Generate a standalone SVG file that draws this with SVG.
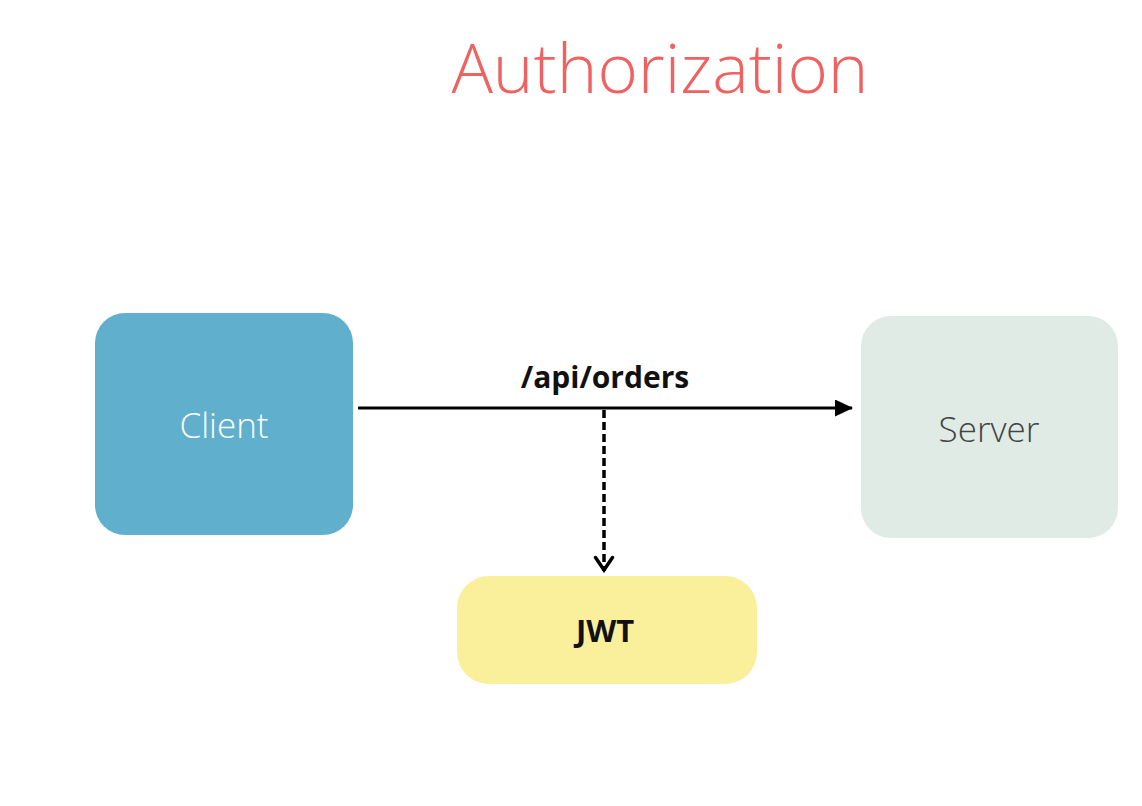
<svg xmlns="http://www.w3.org/2000/svg" width="1142" height="806" viewBox="0 0 1142 806">
<style>
.t{font-family:"Open Sans","Noto Sans","Liberation Sans",sans-serif;text-anchor:middle}
.title{font-size:69px;font-weight:300;fill:#ee6262}
.nl{font-size:35px;font-weight:300}
.bl{font-weight:700;fill:#111}
</style>
<defs>
<marker id="tri" viewBox="0 0 18 17" refX="17" refY="8.5" markerWidth="18" markerHeight="17" markerUnits="userSpaceOnUse" orient="auto"><path d="M0,0 L18,8.5 L0,17 Z" fill="#000"/></marker>
<marker id="chev" viewBox="0 0 18 22" refX="16" refY="11" markerWidth="18" markerHeight="22" markerUnits="userSpaceOnUse" orient="auto"><path d="M2.5,2.5 L15,11 L2.5,19.5" fill="none" stroke="#000" stroke-width="3.5" stroke-linecap="round" stroke-linejoin="miter"/></marker>
</defs>
<rect width="1142" height="806" fill="#fff"/>
<text class="t title" x="660" y="93">Authorization</text>
<g id="client"><rect x="95" y="313" width="258" height="222" rx="30" fill="#60afcd"/><text class="t nl" x="224" y="438" fill="#fff">Client</text></g>
<g id="server"><rect x="861" y="316" width="257" height="222" rx="30" fill="#e0ebe6"/><text class="t nl" x="989" y="442" fill="#444">Server</text></g>
<g id="jwt"><rect x="457" y="576" width="300" height="108" rx="32" fill="#faf09c"/><text class="t bl" x="605" y="642" font-size="31">JWT</text></g>
<g id="connectors">
<line x1="358" y1="408" x2="852" y2="408" stroke="#000" stroke-width="3" marker-end="url(#tri)"/>
<line x1="604" y1="410" x2="604" y2="571" stroke="#000" stroke-width="3.5" stroke-dasharray="8,4" marker-end="url(#chev)"/>
<text class="t bl" x="605" y="388" font-size="30">/api/orders</text>
</g>
</svg>
